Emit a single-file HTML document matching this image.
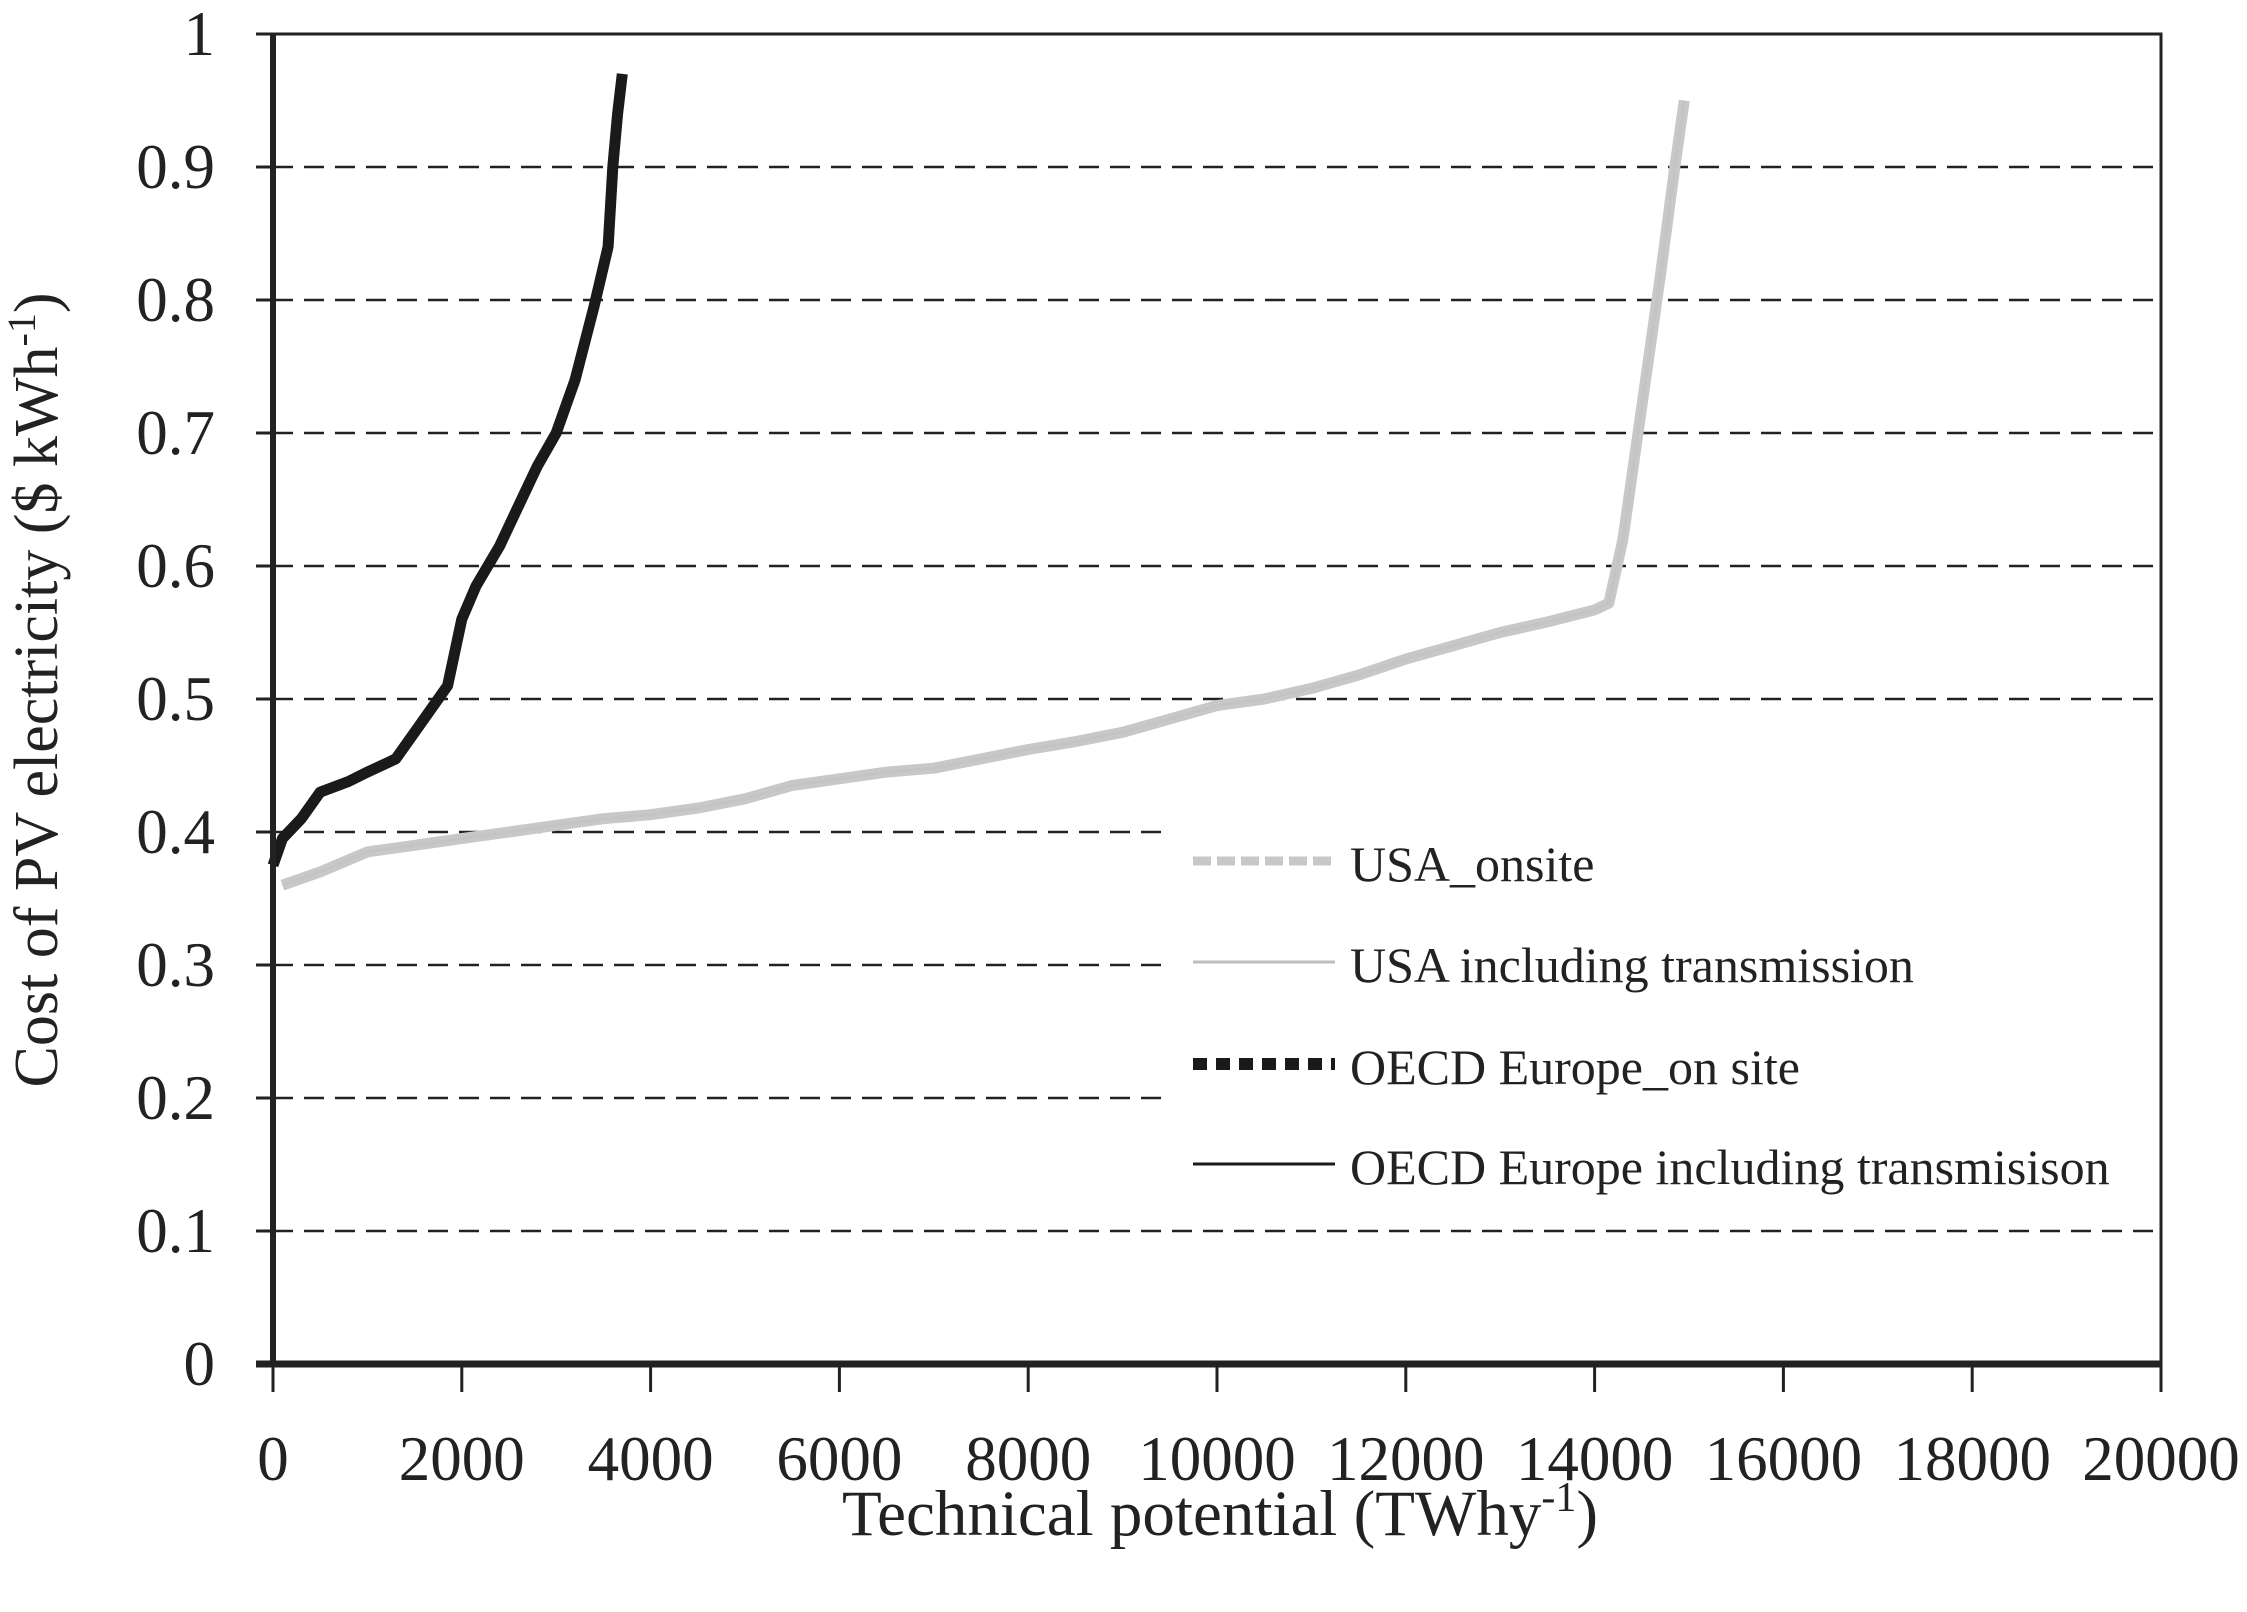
<!DOCTYPE html>
<html><head><meta charset="utf-8"><style>
html,body{margin:0;padding:0;background:#fff;}
svg text{font-family:"Liberation Serif",serif;fill:#222;}
</style></head><body>
<svg width="2247" height="1607" viewBox="0 0 2247 1607" xmlns="http://www.w3.org/2000/svg">
<g id="grid"></g>
<rect x="1163" y="804" width="990" height="402" fill="#fff"/>
<g id="series"></g>
<g id="axes"></g>
<g id="legend"></g>
<text x="57" y="690" font-size="62" text-anchor="middle" transform="rotate(-90 57 690)">Cost of PV electricity ($ kWh<tspan dy="-22" font-size="40">-1</tspan><tspan dy="22">)</tspan></text>
<text x="1220" y="1535" font-size="65" text-anchor="middle">Technical potential (TWhy<tspan dy="-24" font-size="42">-1</tspan><tspan dy="24">)</tspan></text>
</svg>
<script>
const xTicks=[0,2000,4000,6000,8000,10000,12000,14000,16000,18000,20000];
const yTicks=[0,0.1,0.2,0.3,0.4,0.5,0.6,0.7,0.8,0.9,1];
const usaX=[100,500,1000,1500,2000,2500,3000,3500,4000,4500,5000,5500,6000,6500,7000,7500,8000,8500,9000,9500,10000,10500,11000,11500,12000,12500,13000,13500,14000,14150,14300,14500,14700,14850,14950];
const usaY=[0.36,0.37,0.385,0.39,0.395,0.40,0.405,0.41,0.413,0.418,0.425,0.435,0.44,0.445,0.448,0.455,0.462,0.468,0.475,0.485,0.495,0.50,0.508,0.518,0.53,0.54,0.55,0.558,0.567,0.572,0.62,0.72,0.82,0.90,0.95];
const eurX=[0,100,300,500,800,1000,1300,1500,1700,1850,2000,2150,2400,2600,2800,3000,3200,3400,3550,3600,3650,3700];
const eurY=[0.375,0.395,0.41,0.43,0.438,0.445,0.455,0.475,0.495,0.51,0.56,0.585,0.615,0.645,0.675,0.70,0.74,0.795,0.84,0.90,0.94,0.97];
const legendLabels=["USA_onsite","USA including transmission","OECD Europe_on site","OECD Europe including transmisison"];
const L=273,R=2161,T=34,B=1364;
const sx=v=>L+(v-0)/(20000)*(R-L);
const sy=v=>B-v/1*(B-T);
const NS="http://www.w3.org/2000/svg";
function mk(tag,attrs,parent){const e=document.createElementNS(NS,tag);for(const k in attrs)e.setAttribute(k,attrs[k]);parent.appendChild(e);return e;}
const grid=document.getElementById('grid'),axes=document.getElementById('axes'),series=document.getElementById('series'),legend=document.getElementById('legend');
yTicks.forEach(v=>{
  if(v>0&&v<1){const g=mk('line',{x1:L,x2:R,y1:sy(v),y2:sy(v),stroke:'#222','stroke-width':2.5,'stroke-dasharray':'20,11'},grid);
  
  }
  const t=mk('line',{x1:L-17,x2:L,y1:sy(v),y2:sy(v),stroke:'#222','stroke-width':3},axes);
  
  
  const tx=mk('text',{x:215,y:sy(v)+21,'font-size':63,'text-anchor':'end'},axes);tx.textContent=String(v);
  
  
});
xTicks.forEach(v=>{
  const t=mk('line',{x1:sx(v),x2:sx(v),y1:B,y2:B+28,stroke:'#222','stroke-width':3},axes);
  
  
  const tx=mk('text',{x:sx(v),y:1480,'font-size':63,'text-anchor':'middle'},axes);tx.textContent=String(v);
  
  
});
const frame=mk('rect',{x:L,y:T,width:R-L,height:B-T,fill:'none',stroke:'#222','stroke-width':3},axes);


const xa=mk('line',{x1:L-17,x2:R,y1:B,y2:B,stroke:'#222','stroke-width':7},axes);


const ya=mk('line',{x1:L,x2:L,y1:T,y2:B,stroke:'#222','stroke-width':6},axes);


function pts(xs,ys){return xs.map((x,i)=>sx(x).toFixed(1)+','+sy(ys[i]).toFixed(1)).join(' ');}
const s1=mk('polyline',{points:pts(usaX,usaY),fill:'none',stroke:'#c8c8c8','stroke-width':11,'stroke-linejoin':'round'},series);


const s2=mk('polyline',{points:pts(usaX,usaY),fill:'none',stroke:'#c4c4c4','stroke-width':3},series);


const s3=mk('polyline',{points:pts(eurX,eurY),fill:'none',stroke:'#1a1a1a','stroke-width':11,'stroke-linejoin':'round'},series);


const s4=mk('polyline',{points:pts(eurX,eurY),fill:'none',stroke:'#1a1a1a','stroke-width':3},series);


const legStyles=[{stroke:'#c8c8c8',w:9,d:'18,6'},{stroke:'#bdbdbd',w:3,d:''},{stroke:'#1a1a1a',w:12,d:'14,9'},{stroke:'#1a1a1a',w:3,d:''}];
const legY=[869,970,1072,1172];
legendLabels.forEach((lab,i)=>{
  const st=legStyles[i];
  const ln=mk('line',{x1:1193,x2:1335,y1:legY[i]-8,y2:legY[i]-8,stroke:st.stroke,'stroke-width':st.w},legend);
  if(st.d)ln.setAttribute('stroke-dasharray',st.d);
  
  
  const tx=mk('text',{x:1350,y:legY[i]+12,'font-size':50},legend);tx.textContent=lab;
  
  
});
</script>
</body></html>
